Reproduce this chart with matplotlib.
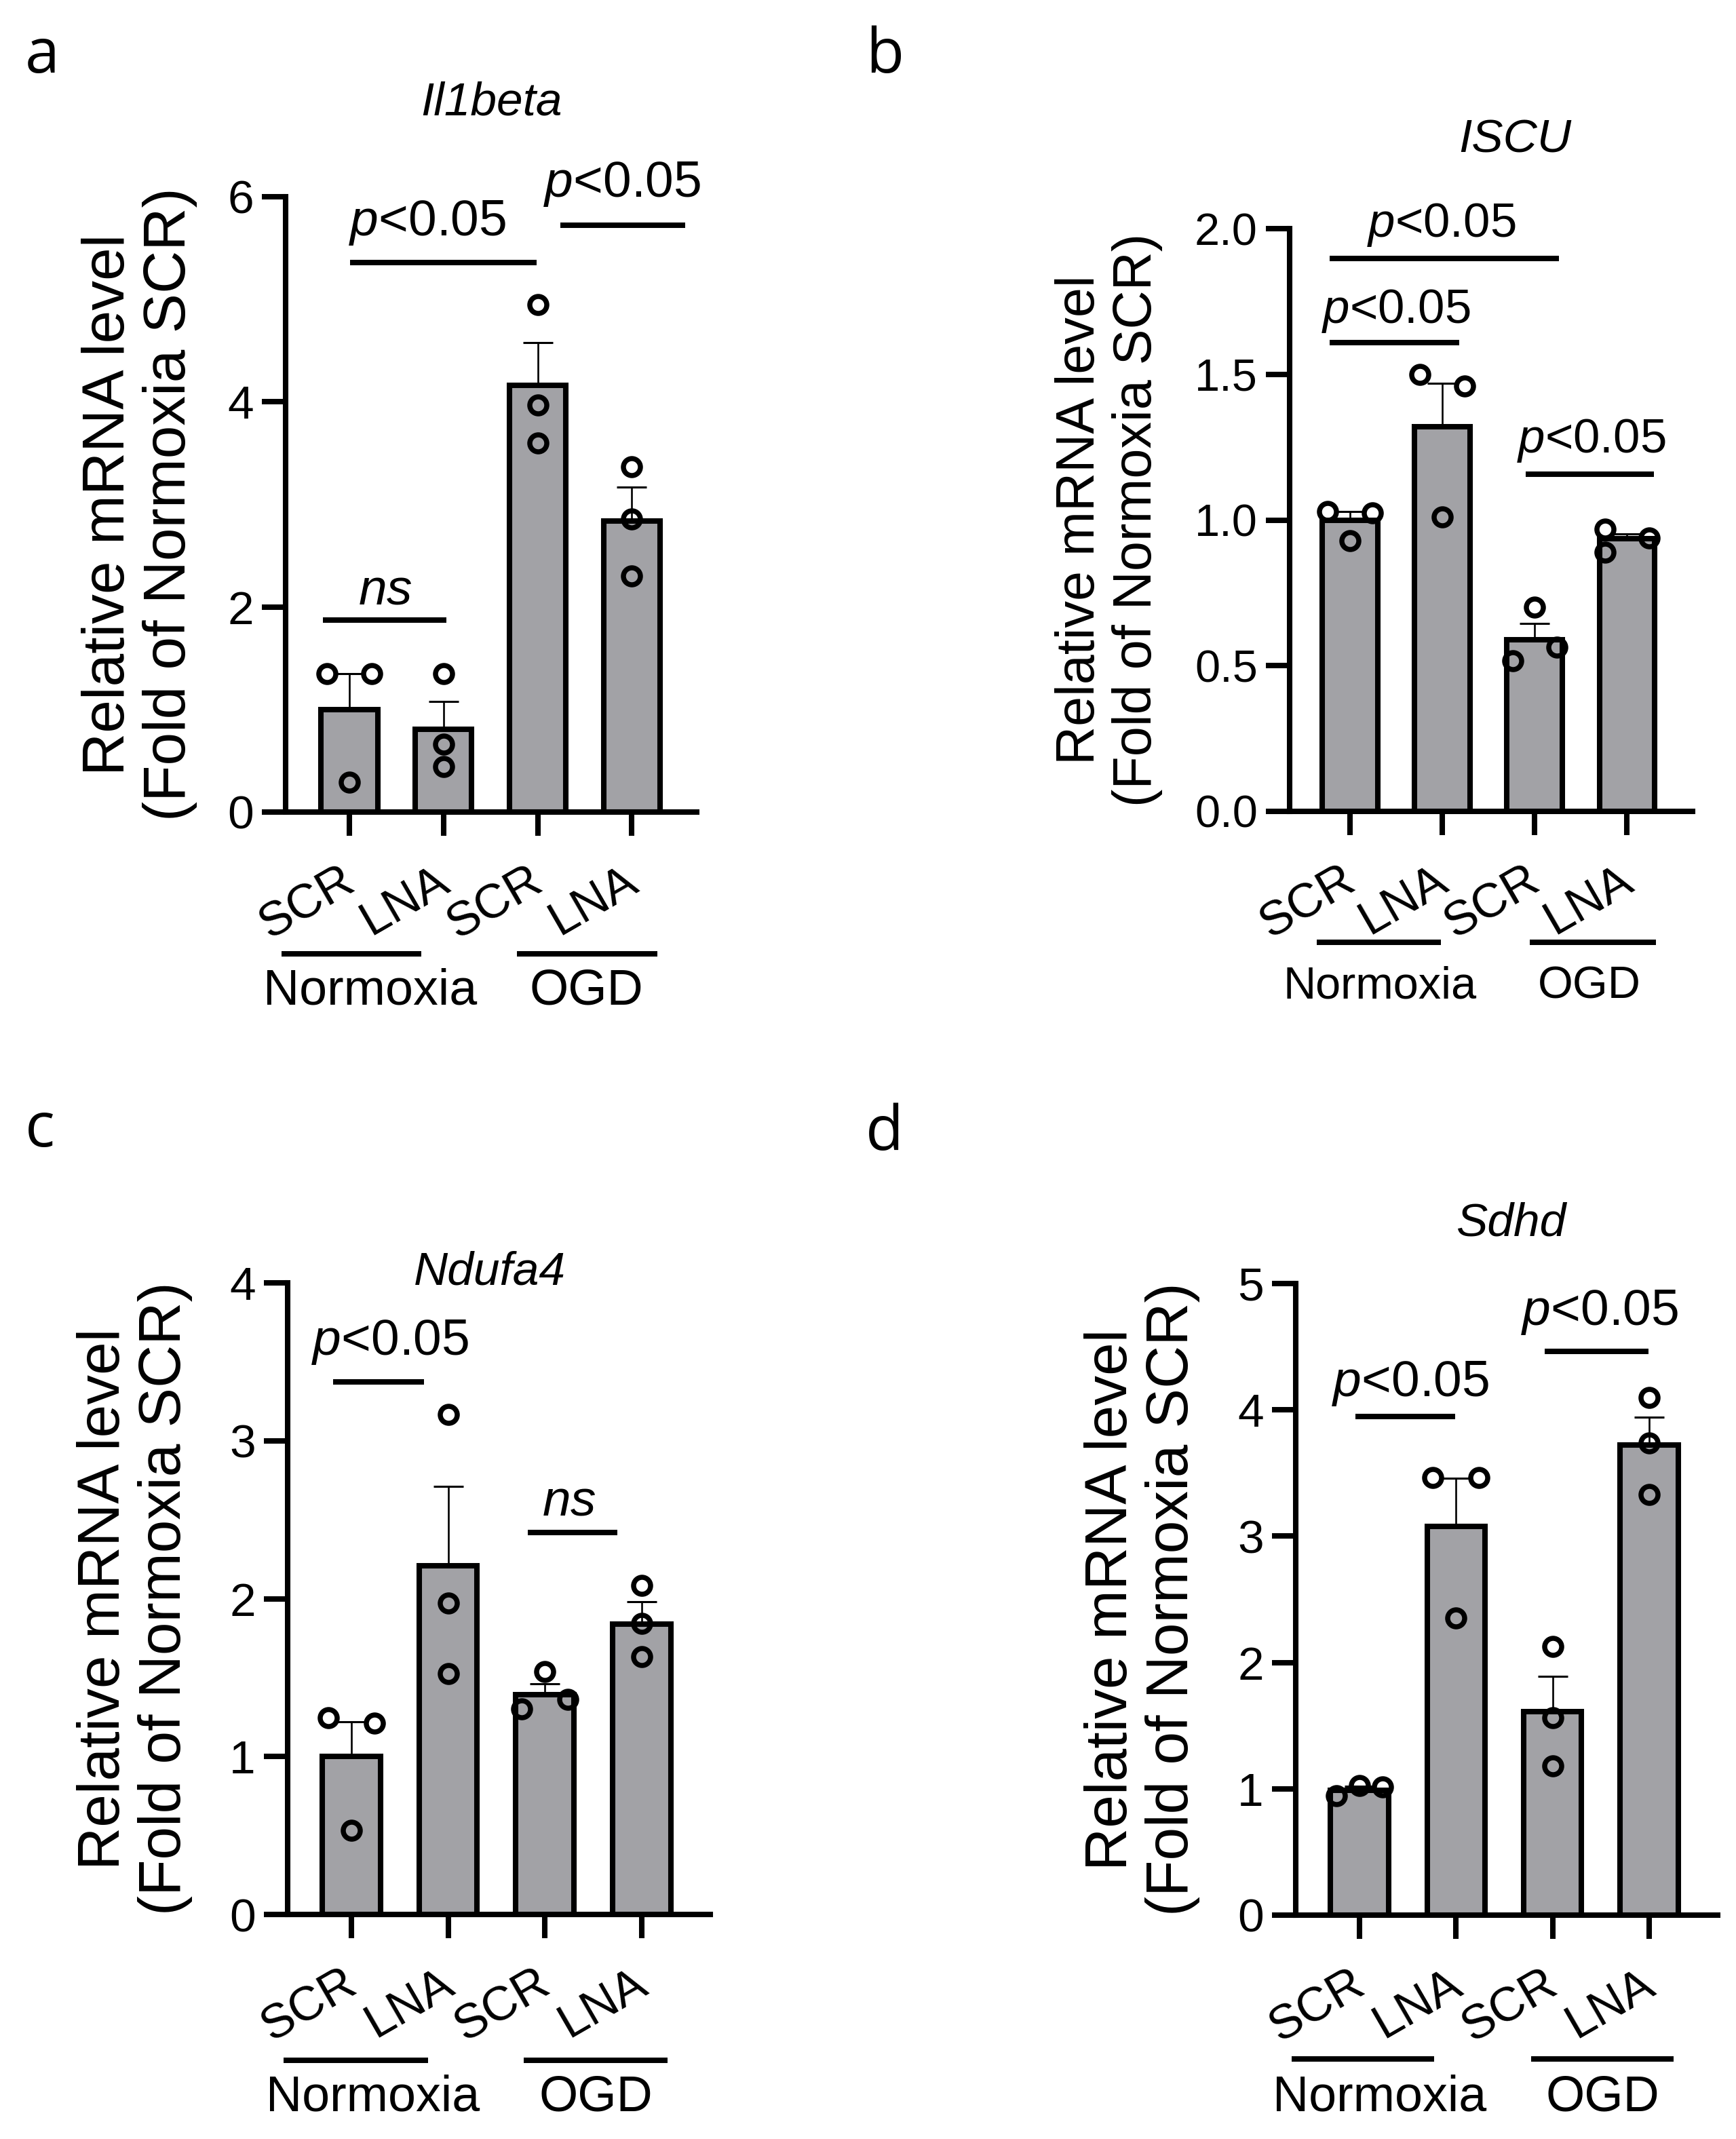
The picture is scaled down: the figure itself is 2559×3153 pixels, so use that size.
import numpy as np
import matplotlib.pyplot as plt
from matplotlib.transforms import offset_copy

W, H = 2559, 3153
DPI = 100

plt.rcParams['font.family'] = ['Liberation Sans', 'DejaVu Sans']
plt.rcParams['mathtext.fontset'] = 'custom'
plt.rcParams['mathtext.rm'] = 'Liberation Sans'
plt.rcParams['mathtext.it'] = 'Liberation Sans:italic'

# === DATA ===
groups = ['SCR', 'LNA', 'SCR', 'LNA']
conditions = ['Normoxia', 'OGD']
ylab = 'Relative mRNA level\n(Fold of Normoxia SCR)'

il1b_mean = [1.0, 0.81, 4.16, 2.84]
il1b_sem = [0.35, 0.27, 0.42, 0.33]
il1b_pts = [[1.35, 1.35, 0.29], [1.35, 0.66, 0.44], [4.95, 3.97, 3.60], [3.37, 2.86, 2.30]]

iscu_mean = [1.0, 1.32, 0.59, 0.935]
iscu_sem = [0.03, 0.15, 0.056, 0.018]
iscu_pts = [[1.03, 1.025, 0.93], [1.50, 1.46, 1.01], [0.70, 0.517, 0.563], [0.969, 0.89, 0.938]]

ndufa4_mean = [1.0, 2.21, 1.39, 1.84]
ndufa4_sem = [0.22, 0.50, 0.07, 0.14]
ndufa4_pts = [[1.245, 1.21, 0.533], [3.166, 1.974, 1.524], [1.537, 1.30, 1.362], [2.083, 1.843, 1.633]]

sdhd_mean = [0.99, 3.08, 1.61, 3.72]
sdhd_sem = [0.03, 0.38, 0.28, 0.22]
sdhd_pts = [[0.944, 1.026, 1.015], [3.466, 3.466, 2.353], [2.129, 1.561, 1.179], [4.099, 3.739, 3.33]]

# horizontal jitter of overlapping points (in marker widths)
il1b_jit = [[-1, 1, 0], [0, 0, 0], [0, 0, 0], [0, 0, 0]]
iscu_jit = [[-1, 1, 0], [-1, 1, 0], [0, -1, 1], [-1, -1, 1]]
ndufa4_jit = [[-1, 1, 0], [0, 0, 0], [0, -1, 1], [0, 0, 0]]
sdhd_jit = [[-1, 0, 1], [-1, 1, 0], [0, 0, 0], [0, 0, 0]]

GRAY = '#a2a2a6'
LW = 5.8

panels = [
    dict(letter='a', lpos=(37, 107), title='Il1beta', tpos=(1.51, 6.80),
         mean=il1b_mean, sem=il1b_sem, pts=il1b_pts, jit=il1b_jit,
         rect=(421, 290, 1027, 1197), xlim=(-0.678, 3.69), ymax=6, yticks=[0, 2, 4, 6], fmt='{:.0f}',
         tick_fs=50, ylab_fs=63, ylab_x=-2.23, p_fs=54, grp_fs=53,
         brackets=[('ns', -0.28, 1.03, 1.87, 0.38, 2.03),
                   ('p', 0.01, 1.99, 5.36, 0.83, 5.62),
                   ('p', 2.24, 3.57, 5.72, 2.90, 6.0)],
         glines=[(-0.72, 0.76, 0.22), (1.78, 3.27, 2.52)], gline_px=209, gtext_px=284),
    dict(letter='b', lpos=(1276, 107), title='ISCU', tpos=(1.79, 2.261),
         mean=iscu_mean, sem=iscu_sem, pts=iscu_pts, jit=iscu_jit,
         rect=(1901, 337, 2495, 1196), xlim=(-0.654, 3.71), ymax=2.0,
         yticks=[0, 0.5, 1.0, 1.5, 2.0], fmt='{:.1f}',
         tick_fs=48, ylab_fs=57, ylab_x=-2.61, p_fs=51, grp_fs=48,
         brackets=[('p', -0.22, 2.26, 1.898, 0.99, 1.972),
                   ('p', -0.22, 1.18, 1.61, 0.50, 1.677),
                   ('p', 1.90, 3.29, 1.158, 2.61, 1.232)],
         glines=[(-0.36, 0.985, 0.32), (1.95, 3.31, 2.59)], gline_px=193, gtext_px=276),
    dict(letter='c', lpos=(37, 1690), title='Ndufa4', tpos=(1.43, 3.99),
         mean=ndufa4_mean, sem=ndufa4_sem, pts=ndufa4_pts, jit=ndufa4_jit,
         rect=(424, 1891, 1047, 2822), xlim=(-0.66, 3.71), ymax=4, yticks=[0, 1, 2, 3, 4], fmt='{:.0f}',
         tick_fs=50, ylab_fs=63, ylab_x=-2.24, p_fs=54, grp_fs=53,
         brackets=[('p', -0.19, 0.75, 3.371, 0.40, 3.545),
                   ('ns', 1.82, 2.75, 2.42, 2.25, 2.53)],
         glines=[(-0.70, 0.79, 0.22), (1.78, 3.27, 2.53)], gline_px=215, gtext_px=290),
    dict(letter='d', lpos=(1276, 1695), title='Sdhd', tpos=(1.57, 5.376),
         mean=sdhd_mean, sem=sdhd_sem, pts=sdhd_pts, jit=sdhd_jit,
         rect=(1910, 1892, 2532, 2823), xlim=(-0.66, 3.71), ymax=5, yticks=[0, 1, 2, 3, 4, 5], fmt='{:.0f}',
         tick_fs=50, ylab_fs=63, ylab_x=-2.25, p_fs=54, grp_fs=53,
         brackets=[('p', -0.04, 0.99, 3.947, 0.53, 4.11),
                   ('p', 1.92, 2.99, 4.465, 2.49, 4.67)],
         glines=[(-0.70, 0.77, 0.21), (1.78, 3.25, 2.52)], gline_px=212, gtext_px=289),
]

fig = plt.figure(figsize=(W / DPI, H / DPI), dpi=DPI)


def below(ax, px, dx=0):
    return offset_copy(ax.get_xaxis_transform(), fig=fig, x=dx, y=-px, units='dots')


for p in panels:
    x0, y0, x1, y1 = p['rect']
    ax = fig.add_axes([x0 / W, 1 - y1 / H, (x1 - x0) / W, (y1 - y0) / H])
    x = np.arange(len(groups))

    ax.bar(x, p['mean'], width=0.6, color=GRAY, edgecolor='black', linewidth=LW, zorder=2)
    ax.errorbar(x, p['mean'], yerr=[np.zeros(len(x)), p['sem']], fmt='none', ecolor='black',
                elinewidth=1.9, capsize=16, capthick=2.2, zorder=3)
    for i in range(len(x)):
        xs = x[i] + 0.24 * np.array(p['jit'][i])
        ax.plot(xs, p['pts'][i], 'o', ms=18, mfc='none', mec='black', mew=5.4,
                zorder=4, clip_on=False)

    ax.set_xlim(*p['xlim'])
    ax.set_ylim(0, p['ymax'])
    for s in ['top', 'right']:
        ax.spines[s].set_visible(False)
    for s in ['left', 'bottom']:
        ax.spines[s].set_linewidth(LW)
        ax.spines[s].set_capstyle('projecting')
    ax.set_yticks(p['yticks'])
    ax.set_yticklabels([p['fmt'].format(v) for v in p['yticks']], fontsize=p['tick_fs'])
    ax.set_xticks(x)
    ax.set_xticklabels([])
    ax.tick_params(length=25, width=LW, direction='out', pad=9)

    # rotated group labels
    for i, g in enumerate(groups):
        ax.text(x[i], 0, g, transform=below(ax, 113, dx=12), fontsize=51, rotation=30,
                rotation_mode='anchor', ha='right', va='baseline')

    # condition lines and labels
    for (gx1, gx2, gtx), cond in zip(p['glines'], conditions):
        ax.plot([gx1, gx2], [0, 0], color='black', lw=LW, solid_capstyle='butt',
                transform=below(ax, p['gline_px']), clip_on=False)
        ax.text(gtx, 0, cond, transform=below(ax, p['gtext_px']), fontsize=p['grp_fs'],
                ha='center', va='baseline')

    # significance brackets
    for lab, bx1, bx2, by, tx, ty in p['brackets']:
        ax.plot([bx1, bx2], [by, by], color='black', lw=LW, solid_capstyle='butt', clip_on=False)
        txt = r'$\mathit{p}$<0.05' if lab == 'p' else r'$\mathit{ns}$'
        ax.text(tx, ty, txt, fontsize=p['p_fs'], ha='center', va='baseline')

    ax.text(p['tpos'][0], p['tpos'][1], p['title'], fontsize=50, style='italic',
            ha='center', va='baseline')
    ax.text(p['ylab_x'], p['ymax'] / 2, ylab, fontsize=p['ylab_fs'], rotation=90,
            ha='center', va='center', multialignment='center', linespacing=1.15)

    fig.text(p['lpos'][0] / W, 1 - p['lpos'][1] / H, p['letter'], fontsize=66,
             family=['Open Sans', 'DejaVu Sans'], ha='left', va='baseline')

fig.savefig('out.png', dpi=DPI, facecolor='white')
